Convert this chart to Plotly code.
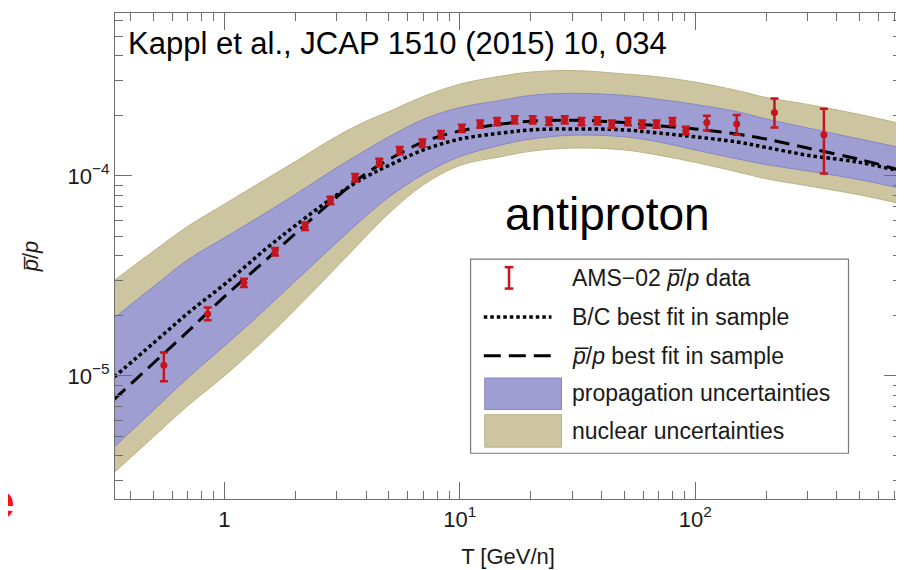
import plotly.graph_objects as go

# ---------------- data ----------------
# model grid in kinetic energy per nucleon T [GeV/n]
T_grid = [0.34, 0.5, 0.7, 1, 1.5, 2, 3, 4, 5, 7, 10, 15, 20, 30, 50, 70,
          100, 150, 200, 300, 500, 760]

nuc_hi = [3.00e-5, 4.21e-5, 5.61e-5, 7.23e-5, 9.64e-5, 1.18e-4, 1.58e-4, 1.88e-4,
          2.10e-4, 2.50e-4, 2.88e-4, 3.16e-4, 3.31e-4, 3.37e-4, 3.24e-4, 3.13e-4,
          2.95e-4, 2.68e-4, 2.47e-4, 2.28e-4, 2.03e-4, 1.82e-4]
nuc_lo = [3.28e-6, 4.96e-6, 7.10e-6, 1.00e-5, 1.54e-5, 2.15e-5, 3.51e-5, 5.00e-5,
          6.51e-5, 9.03e-5, 1.13e-4, 1.25e-4, 1.33e-4, 1.38e-4, 1.35e-4, 1.27e-4,
          1.17e-4, 1.05e-4, 9.69e-5, 8.93e-5, 8.04e-5, 7.23e-5]
prop_hi = [1.95e-5, 2.80e-5, 3.81e-5, 4.91e-5, 6.55e-5, 8.09e-5, 1.10e-4, 1.35e-4,
           1.57e-4, 1.92e-4, 2.20e-4, 2.39e-4, 2.53e-4, 2.59e-4, 2.53e-4, 2.42e-4,
           2.28e-4, 2.10e-4, 1.93e-4, 1.74e-4, 1.53e-4, 1.38e-4]
prop_lo = [4.40e-6, 6.74e-6, 9.79e-6, 1.41e-5, 2.17e-5, 2.98e-5, 4.65e-5, 6.32e-5,
           7.85e-5, 1.02e-4, 1.25e-4, 1.43e-4, 1.53e-4, 1.60e-4, 1.57e-4, 1.48e-4,
           1.35e-4, 1.22e-4, 1.14e-4, 1.06e-4, 9.58e-5, 8.62e-5]
fit_bc = [9.87e-6, 1.46e-5, 2.06e-5, 2.87e-5, 4.32e-5, 5.65e-5, 8.04e-5, 9.92e-5,
          1.13e-4, 1.35e-4, 1.53e-4, 1.64e-4, 1.70e-4, 1.72e-4, 1.70e-4, 1.64e-4,
          1.57e-4, 1.48e-4, 1.39e-4, 1.27e-4, 1.17e-4, 1.05e-4]
fit_pbar = [7.63e-6, 1.16e-5, 1.67e-5, 2.49e-5, 3.80e-5, 5.15e-5, 7.85e-5, 1.03e-4,
            1.21e-4, 1.48e-4, 1.68e-4, 1.82e-4, 1.88e-4, 1.90e-4, 1.85e-4, 1.78e-4,
            1.72e-4, 1.62e-4, 1.53e-4, 1.38e-4, 1.21e-4, 1.06e-4]

# AMS-02 pbar/p data
ams_T = [0.553, 0.849, 1.21, 1.64, 2.20, 2.82, 3.59, 4.55, 5.55, 6.94, 8.32, 10.2,
         12.2, 14.4, 17.1, 20.4, 23.9, 27.9, 32.9, 38.4, 44.2, 51.8, 59.5, 68.5,
         80.0, 91.2, 112, 150, 217, 352]
ams_val = [1.13e-5, 2.04e-5, 2.92e-5, 4.18e-5, 5.61e-5, 7.55e-5, 9.80e-5, 1.17e-4,
           1.34e-4, 1.46e-4, 1.61e-4, 1.73e-4, 1.82e-4, 1.87e-4, 1.91e-4, 1.91e-4,
           1.88e-4, 1.91e-4, 1.87e-4, 1.89e-4, 1.82e-4, 1.87e-4, 1.82e-4, 1.82e-4,
           1.87e-4, 1.69e-4, 1.85e-4, 1.82e-4, 2.08e-4, 1.61e-4]
ams_err_up = [1.8e-6, 1.6e-6, 1.4e-6, 1.8e-6, 2.4e-6, 3.2e-6, 4.2e-6, 5.0e-6,
              5.6e-6, 6.2e-6, 6.8e-6, 7.2e-6, 7.6e-6, 7.8e-6, 8.0e-6, 8.0e-6,
              7.9e-6, 8.0e-6, 7.8e-6, 7.9e-6, 7.6e-6, 7.8e-6, 7.6e-6, 7.6e-6,
              7.8e-6, 7.2e-6, 1.5e-5, 2.0e-5, 3.6e-5, 5.6e-5]
ams_err_dn = [1.9e-6, 1.4e-6, 1.4e-6, 1.8e-6, 2.4e-6, 3.2e-6, 4.2e-6, 5.0e-6,
              5.6e-6, 6.2e-6, 6.8e-6, 7.2e-6, 7.6e-6, 7.8e-6, 8.0e-6, 8.0e-6,
              7.9e-6, 8.0e-6, 7.8e-6, 7.9e-6, 7.6e-6, 7.8e-6, 7.6e-6, 7.6e-6,
              7.8e-6, 7.2e-6, 1.6e-5, 2.1e-5, 3.3e-5, 5.8e-5]

# axis ticks
x_tickvals = [1, 10, 100]
x_ticktext = ["1", "10<sup>1</sup>", "10<sup>2</sup>"]
x_minor = [0.4, 0.5, 0.6, 0.7, 0.8, 0.9, 2, 3, 4, 5, 6, 7, 8, 9,
           20, 30, 40, 50, 60, 70, 80, 90, 200, 300, 400, 500, 600, 700]
y_tickvals = [1e-5, 1e-4]
y_ticktext = ["10<sup>\u22125</sup>", "10<sup>\u22124</sup>"]
y_minor = [3e-6, 4e-6, 5e-6, 6e-6, 7e-6, 8e-6, 9e-6,
           2e-5, 3e-5, 4e-5, 5e-5, 6e-5, 7e-5, 8e-5, 9e-5,
           2e-4, 3e-4, 4e-4, 5e-4, 6e-4]

legend_labels = ["AMS\u221202 <i>p\u0305</i>/<i>p</i> data",
                 "B/C best fit in sample",
                 "<i>p\u0305</i>/<i>p</i> best fit in sample",
                 "propagation uncertainties",
                 "nuclear uncertainties"]

# ---------------- styles ----------------
TAN = "#CDC59F"
TAN_EDGE = "#BDB285"
BLUE = "#9E9ED3"
BLUE_EDGE = "#8787C4"
RED = "#C4161C"
AX = "#6E6E6E"
FONT = "Liberation Sans, Arial, sans-serif"

fig = go.Figure()

# nuclear band
fig.add_trace(go.Scatter(x=T_grid, y=nuc_lo, mode="lines",
                         line=dict(color=TAN_EDGE, width=1, shape="spline"),
                         hoverinfo="skip", showlegend=False))
fig.add_trace(go.Scatter(x=T_grid, y=nuc_hi, mode="lines", fill="tonexty",
                         fillcolor=TAN,
                         line=dict(color=TAN_EDGE, width=1, shape="spline"),
                         hoverinfo="skip", showlegend=False))
# propagation band
fig.add_trace(go.Scatter(x=T_grid, y=prop_lo, mode="lines",
                         line=dict(color=BLUE_EDGE, width=1, shape="spline"),
                         hoverinfo="skip", showlegend=False))
fig.add_trace(go.Scatter(x=T_grid, y=prop_hi, mode="lines", fill="tonexty",
                         fillcolor=BLUE,
                         line=dict(color=BLUE_EDGE, width=1, shape="spline"),
                         hoverinfo="skip", showlegend=False))
# best-fit curves
fig.add_trace(go.Scatter(x=T_grid, y=fit_bc, mode="lines",
                         line=dict(color="black", width=3.5, dash="3.5px,3px",
                                   shape="spline"),
                         showlegend=False))
fig.add_trace(go.Scatter(x=T_grid, y=fit_pbar, mode="lines",
                         line=dict(color="black", width=3, dash="15px,8px",
                                   shape="spline"),
                         showlegend=False))
# data
fig.add_trace(go.Scatter(x=ams_T, y=ams_val, mode="markers",
                         marker=dict(color=RED, size=7),
                         error_y=dict(type="data", symmetric=False,
                                      array=ams_err_up, arrayminus=ams_err_dn,
                                      color=RED, thickness=2.5, width=4),
                         showlegend=False))

# ---------------- manual legend (paper coordinates) ----------------
shapes = []
shapes.append(dict(type="rect", xref="paper", yref="paper",
                   x0=0.4524, x1=0.9332, y0=0.0941, y1=0.4937,
                   line=dict(color="#7A7A7A", width=1.2), fillcolor="white",
                   layer="above"))
# error-bar symbol
sx = 0.5013
shapes.append(dict(type="line", xref="paper", yref="paper", x0=sx, x1=sx,
                   y0=0.433, y1=0.477, line=dict(color=RED, width=2.5), layer="above"))
for yy in (0.433, 0.477):
    shapes.append(dict(type="line", xref="paper", yref="paper",
                       x0=sx - 0.0055, x1=sx + 0.0055, y0=yy, y1=yy,
                       line=dict(color=RED, width=2.5), layer="above"))
# dotted and dashed symbols
shapes.append(dict(type="line", xref="paper", yref="paper", x0=0.4692, x1=0.5553,
                   y0=0.3745, y1=0.3745,
                   line=dict(color="black", width=3.5, dash="3.5px,3px"), layer="above"))
shapes.append(dict(type="line", xref="paper", yref="paper", x0=0.4692, x1=0.5553,
                   y0=0.295, y1=0.295,
                   line=dict(color="black", width=3, dash="17px,8px"), layer="above"))
# band swatches
shapes.append(dict(type="rect", xref="paper", yref="paper", x0=0.4704, x1=0.5681,
                   y0=0.1841, y1=0.249, fillcolor=BLUE,
                   line=dict(color=BLUE_EDGE, width=1), layer="above"))
shapes.append(dict(type="rect", xref="paper", yref="paper", x0=0.4704, x1=0.5681,
                   y0=0.1067, y1=0.1736, fillcolor=TAN,
                   line=dict(color=TAN_EDGE, width=1), layer="above"))

annotations = []
for lab, yy in zip(legend_labels, [0.454, 0.3745, 0.295, 0.2176, 0.1402]):
    annotations.append(dict(text=lab, xref="paper", yref="paper", x=0.5784, y=yy,
                            xanchor="left", yanchor="middle", showarrow=False,
                            font=dict(family=FONT, size=23, color="#1a1a1a")))

annotations.append(dict(text="Kappl et al., JCAP 1510 (2015) 10, 034",
                        xref="paper", yref="paper", x=0.014, y=0.938,
                        xanchor="left", yanchor="middle", showarrow=False,
                        font=dict(family=FONT, size=31, color="black")))
annotations.append(dict(text="antiproton", xref="paper", yref="paper",
                        x=0.626, y=0.586, xanchor="center", yanchor="middle",
                        showarrow=False,
                        font=dict(family=FONT, size=46, color="black")))
# partially visible slide letter at the left edge of the reference
annotations.append(dict(text="<b>e</b>", xref="paper", yref="paper",
                        x=-0.144, y=-0.006, xanchor="center", yanchor="middle",
                        showarrow=False,
                        font=dict(family=FONT, size=48, color="#FF1010")))

axis_common = dict(showline=True, linecolor=AX, linewidth=1.2, mirror="ticks",
                   ticks="inside", ticklen=17, tickwidth=1, tickcolor=AX,
                   showgrid=False, zeroline=False, automargin=False,
                   tickfont=dict(family=FONT, size=22, color="#1a1a1a"))

# the page body has an 8 px margin, so the figure is 8 px smaller than the window
fig.update_layout(
    width=896, height=562,
    margin=dict(l=107, r=3, t=5, b=71),
    paper_bgcolor="white", plot_bgcolor="white",
    showlegend=False,
    shapes=shapes, annotations=annotations,
    xaxis=dict(type="log", range=[-0.4648, 2.874],
               tickmode="array", tickvals=x_tickvals, ticktext=x_ticktext,
               minor=dict(tickmode="array", tickvals=x_minor, ticks="inside",
                          ticklen=8, tickwidth=1, tickcolor=AX, showgrid=False),
               title=dict(text="T [GeV/n]", standoff=18,
                          font=dict(family=FONT, size=22, color="#1a1a1a")),
               **axis_common),
    yaxis=dict(type="log", range=[-5.616, -3.1846],
               tickmode="array", tickvals=y_tickvals, ticktext=y_ticktext,
               minor=dict(tickmode="array", tickvals=y_minor, ticks="inside",
                          ticklen=8, tickwidth=1, tickcolor=AX, showgrid=False),
               title=dict(text="<i>p\u0305</i>/<i>p</i>", standoff=22,
                          font=dict(family=FONT, size=22, color="#1a1a1a")),
               **axis_common),
)

fig.write_html("out.html")
